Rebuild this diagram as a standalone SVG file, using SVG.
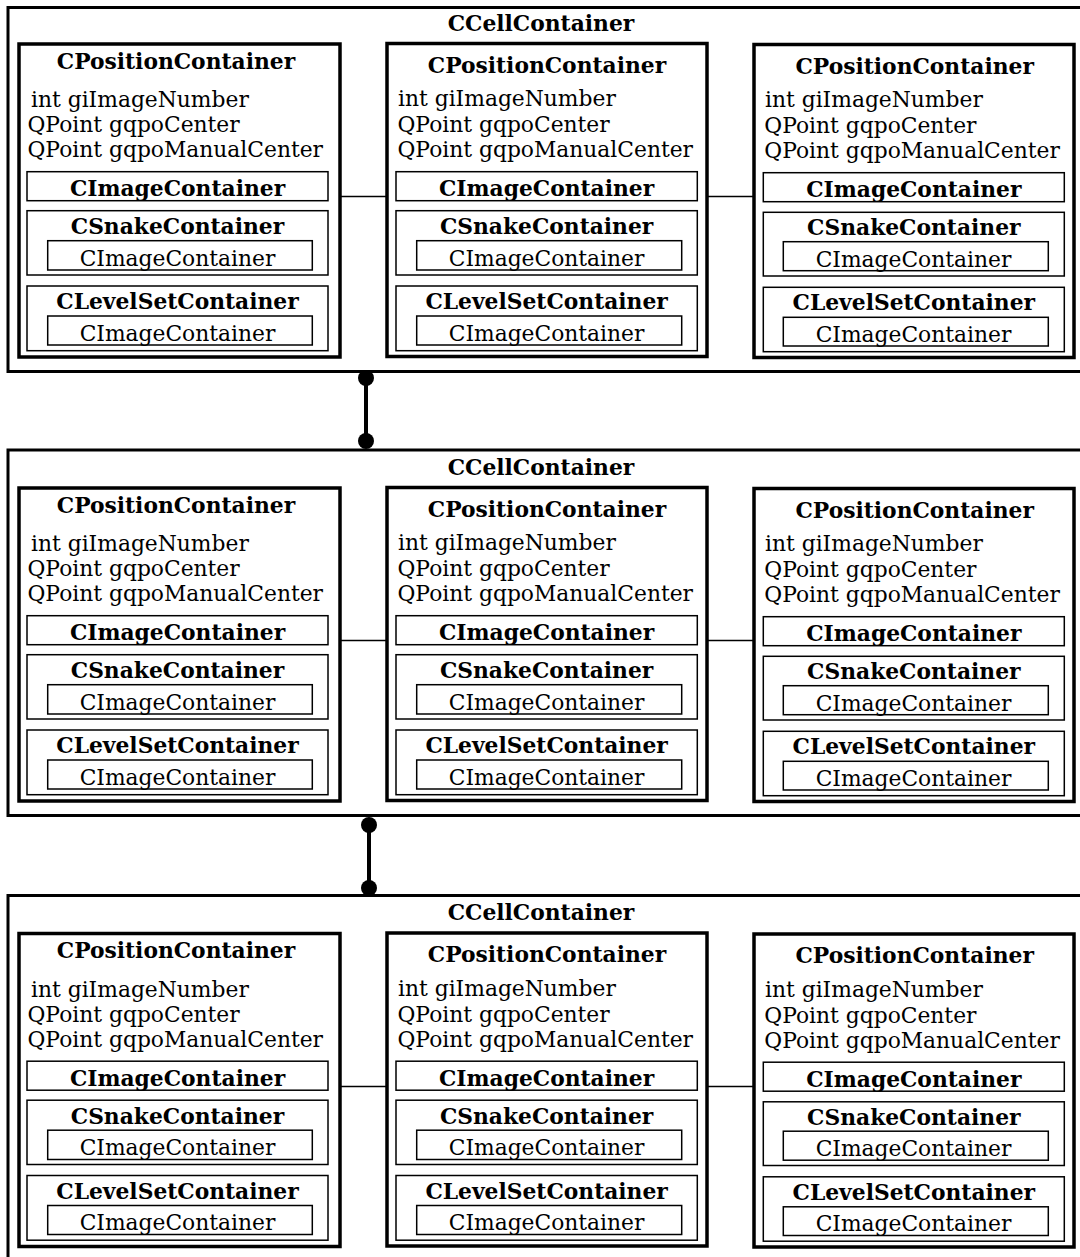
<svg xmlns="http://www.w3.org/2000/svg" width="1080" height="1257" viewBox="0 0 1080 1257">
  <style>
    text { font-family: "DejaVu Serif", "Liberation Serif", serif; fill: #000; }
    .b { font-weight: bold; font-size: 21.8px; text-anchor: middle; }
    .r { font-size: 21.8px; }
    .rc { font-size: 21.8px; text-anchor: middle; }
    .cell { fill: #fff; stroke: #000; stroke-width: 3; }
    .pos { fill: #fff; stroke: #000; stroke-width: 3.5; }
    .sub { fill: none; stroke: #000; stroke-width: 1.5; }
    .link { stroke: #000; stroke-width: 1.3; }
    .agg { stroke: #000; stroke-width: 4; }
  </style>
  <defs>
    <marker id="dot" viewBox="0 0 10 10" refX="5" refY="5" markerWidth="4" markerHeight="4" markerUnits="strokeWidth">
      <circle cx="5" cy="5" r="5" fill="#000"/>
    </marker>
  </defs>

  <!-- cell containers (outer frames) -->
  <g id="cell1">
    <rect class="cell" x="8" y="7.5" width="1090" height="364"/>
    <text class="b" x="541" y="31">CCellContainer</text>
  </g>
  <g id="cell2">
    <rect class="cell" x="8" y="450" width="1090" height="365.5"/>
    <text class="b" x="541" y="475">CCellContainer</text>
  </g>
  <g id="cell3">
    <rect class="cell" x="8" y="895.5" width="1090" height="370"/>
    <text class="b" x="541" y="920">CCellContainer</text>
  </g>

  <!-- connectors -->
  <g id="connectors">
    <line class="link" x1="341" y1="196.5" x2="387" y2="196.5"/>
    <line class="link" x1="707" y1="196.5" x2="754" y2="196.5"/>
    <line class="link" x1="341" y1="640.5" x2="387" y2="640.5"/>
    <line class="link" x1="707" y1="640.5" x2="754" y2="640.5"/>
    <line class="link" x1="341" y1="1086.5" x2="387" y2="1086.5"/>
    <line class="link" x1="707" y1="1086.5" x2="754" y2="1086.5"/>
    <line class="agg" x1="366" y1="378" x2="366" y2="441" marker-start="url(#dot)" marker-end="url(#dot)"/>
    <line class="agg" x1="369" y1="825" x2="369" y2="888" marker-start="url(#dot)" marker-end="url(#dot)"/>
  </g>

  <!-- row 1 -->
  <g id="pos1a">
    <rect class="pos" x="19" y="44" width="321" height="313"/>
    <text class="b" x="176" y="68.5">CPositionContainer</text>
    <text class="r" x="31" y="107">int giImageNumber</text>
    <text class="r" x="27.5" y="132">QPoint gqpoCenter</text>
    <text class="r" x="27.5" y="157">QPoint gqpoManualCenter</text>
    <rect class="sub" x="27" y="171.7" width="301" height="29"/>
    <text class="b" x="177.5" y="196">CImageContainer</text>
    <rect class="sub" x="27" y="210.7" width="301" height="64.3"/>
    <text class="b" x="177.5" y="234">CSnakeContainer</text>
    <rect class="sub" x="47.7" y="240.7" width="264.6" height="29.3"/>
    <text class="rc" x="177.5" y="265.5">CImageContainer</text>
    <rect class="sub" x="27" y="286" width="301" height="64.7"/>
    <text class="b" x="177.5" y="309">CLevelSetContainer</text>
    <rect class="sub" x="47.7" y="316" width="264.6" height="29"/>
    <text class="rc" x="177.5" y="340.5">CImageContainer</text>
  </g>
  <g id="pos1b">
    <rect class="pos" x="387" y="43.5" width="320" height="313"/>
    <text class="b" x="547" y="72.5">CPositionContainer</text>
    <text class="r" x="398" y="106">int giImageNumber</text>
    <text class="r" x="397.5" y="132">QPoint gqpoCenter</text>
    <text class="r" x="397.5" y="157">QPoint gqpoManualCenter</text>
    <rect class="sub" x="396" y="171.7" width="301.3" height="29"/>
    <text class="b" x="546.6" y="196">CImageContainer</text>
    <rect class="sub" x="396" y="210.7" width="301.3" height="64.3"/>
    <text class="b" x="546.6" y="234">CSnakeContainer</text>
    <rect class="sub" x="416.7" y="240.7" width="265" height="29.3"/>
    <text class="rc" x="546.6" y="265.5">CImageContainer</text>
    <rect class="sub" x="396" y="286" width="301.3" height="64.7"/>
    <text class="b" x="546.6" y="309">CLevelSetContainer</text>
    <rect class="sub" x="416.7" y="316" width="265" height="29"/>
    <text class="rc" x="546.6" y="340.5">CImageContainer</text>
  </g>
  <g id="pos1c">
    <rect class="pos" x="754" y="44.5" width="320" height="313"/>
    <text class="b" x="914.7" y="73.5">CPositionContainer</text>
    <text class="r" x="765" y="107">int giImageNumber</text>
    <text class="r" x="764.3" y="133">QPoint gqpoCenter</text>
    <text class="r" x="764.3" y="158">QPoint gqpoManualCenter</text>
    <rect class="sub" x="763.3" y="172.7" width="301" height="29"/>
    <text class="b" x="913.8" y="197">CImageContainer</text>
    <rect class="sub" x="763.3" y="212.3" width="301" height="63.7"/>
    <text class="b" x="913.8" y="235">CSnakeContainer</text>
    <rect class="sub" x="783.3" y="241.7" width="265" height="29"/>
    <text class="rc" x="913.5" y="266.5">CImageContainer</text>
    <rect class="sub" x="763.3" y="287.3" width="301" height="64.4"/>
    <text class="b" x="913.8" y="310">CLevelSetContainer</text>
    <rect class="sub" x="783.3" y="317.3" width="265" height="28.7"/>
    <text class="rc" x="913.5" y="341.5">CImageContainer</text>
  </g>

  <!-- row 2 -->
  <g id="pos2a" transform="translate(0,444)">
    <rect class="pos" x="19" y="44" width="321" height="313"/>
    <text class="b" x="176" y="68.5">CPositionContainer</text>
    <text class="r" x="31" y="107">int giImageNumber</text>
    <text class="r" x="27.5" y="132">QPoint gqpoCenter</text>
    <text class="r" x="27.5" y="157">QPoint gqpoManualCenter</text>
    <rect class="sub" x="27" y="171.7" width="301" height="29"/>
    <text class="b" x="177.5" y="196">CImageContainer</text>
    <rect class="sub" x="27" y="210.7" width="301" height="64.3"/>
    <text class="b" x="177.5" y="234">CSnakeContainer</text>
    <rect class="sub" x="47.7" y="240.7" width="264.6" height="29.3"/>
    <text class="rc" x="177.5" y="265.5">CImageContainer</text>
    <rect class="sub" x="27" y="286" width="301" height="64.7"/>
    <text class="b" x="177.5" y="309">CLevelSetContainer</text>
    <rect class="sub" x="47.7" y="316" width="264.6" height="29"/>
    <text class="rc" x="177.5" y="340.5">CImageContainer</text>
  </g>
  <g id="pos2b" transform="translate(0,444)">
    <rect class="pos" x="387" y="43.5" width="320" height="313"/>
    <text class="b" x="547" y="72.5">CPositionContainer</text>
    <text class="r" x="398" y="106">int giImageNumber</text>
    <text class="r" x="397.5" y="132">QPoint gqpoCenter</text>
    <text class="r" x="397.5" y="157">QPoint gqpoManualCenter</text>
    <rect class="sub" x="396" y="171.7" width="301.3" height="29"/>
    <text class="b" x="546.6" y="196">CImageContainer</text>
    <rect class="sub" x="396" y="210.7" width="301.3" height="64.3"/>
    <text class="b" x="546.6" y="234">CSnakeContainer</text>
    <rect class="sub" x="416.7" y="240.7" width="265" height="29.3"/>
    <text class="rc" x="546.6" y="265.5">CImageContainer</text>
    <rect class="sub" x="396" y="286" width="301.3" height="64.7"/>
    <text class="b" x="546.6" y="309">CLevelSetContainer</text>
    <rect class="sub" x="416.7" y="316" width="265" height="29"/>
    <text class="rc" x="546.6" y="340.5">CImageContainer</text>
  </g>
  <g id="pos2c" transform="translate(0,444)">
    <rect class="pos" x="754" y="44.5" width="320" height="313"/>
    <text class="b" x="914.7" y="73.5">CPositionContainer</text>
    <text class="r" x="765" y="107">int giImageNumber</text>
    <text class="r" x="764.3" y="133">QPoint gqpoCenter</text>
    <text class="r" x="764.3" y="158">QPoint gqpoManualCenter</text>
    <rect class="sub" x="763.3" y="172.7" width="301" height="29"/>
    <text class="b" x="913.8" y="197">CImageContainer</text>
    <rect class="sub" x="763.3" y="212.3" width="301" height="63.7"/>
    <text class="b" x="913.8" y="235">CSnakeContainer</text>
    <rect class="sub" x="783.3" y="241.7" width="265" height="29"/>
    <text class="rc" x="913.5" y="266.5">CImageContainer</text>
    <rect class="sub" x="763.3" y="287.3" width="301" height="64.4"/>
    <text class="b" x="913.8" y="310">CLevelSetContainer</text>
    <rect class="sub" x="783.3" y="317.3" width="265" height="28.7"/>
    <text class="rc" x="913.5" y="341.5">CImageContainer</text>
  </g>

  <!-- row 3 -->
  <g id="pos3a" transform="translate(0,889.5)">
    <rect class="pos" x="19" y="44" width="321" height="313"/>
    <text class="b" x="176" y="68.5">CPositionContainer</text>
    <text class="r" x="31" y="107">int giImageNumber</text>
    <text class="r" x="27.5" y="132">QPoint gqpoCenter</text>
    <text class="r" x="27.5" y="157">QPoint gqpoManualCenter</text>
    <rect class="sub" x="27" y="171.7" width="301" height="29"/>
    <text class="b" x="177.5" y="196">CImageContainer</text>
    <rect class="sub" x="27" y="210.7" width="301" height="64.3"/>
    <text class="b" x="177.5" y="234">CSnakeContainer</text>
    <rect class="sub" x="47.7" y="240.7" width="264.6" height="29.3"/>
    <text class="rc" x="177.5" y="265.5">CImageContainer</text>
    <rect class="sub" x="27" y="286" width="301" height="64.7"/>
    <text class="b" x="177.5" y="309">CLevelSetContainer</text>
    <rect class="sub" x="47.7" y="316" width="264.6" height="29"/>
    <text class="rc" x="177.5" y="340.5">CImageContainer</text>
  </g>
  <g id="pos3b" transform="translate(0,889.5)">
    <rect class="pos" x="387" y="43.5" width="320" height="313"/>
    <text class="b" x="547" y="72.5">CPositionContainer</text>
    <text class="r" x="398" y="106">int giImageNumber</text>
    <text class="r" x="397.5" y="132">QPoint gqpoCenter</text>
    <text class="r" x="397.5" y="157">QPoint gqpoManualCenter</text>
    <rect class="sub" x="396" y="171.7" width="301.3" height="29"/>
    <text class="b" x="546.6" y="196">CImageContainer</text>
    <rect class="sub" x="396" y="210.7" width="301.3" height="64.3"/>
    <text class="b" x="546.6" y="234">CSnakeContainer</text>
    <rect class="sub" x="416.7" y="240.7" width="265" height="29.3"/>
    <text class="rc" x="546.6" y="265.5">CImageContainer</text>
    <rect class="sub" x="396" y="286" width="301.3" height="64.7"/>
    <text class="b" x="546.6" y="309">CLevelSetContainer</text>
    <rect class="sub" x="416.7" y="316" width="265" height="29"/>
    <text class="rc" x="546.6" y="340.5">CImageContainer</text>
  </g>
  <g id="pos3c" transform="translate(0,889.5)">
    <rect class="pos" x="754" y="44.5" width="320" height="313"/>
    <text class="b" x="914.7" y="73.5">CPositionContainer</text>
    <text class="r" x="765" y="107">int giImageNumber</text>
    <text class="r" x="764.3" y="133">QPoint gqpoCenter</text>
    <text class="r" x="764.3" y="158">QPoint gqpoManualCenter</text>
    <rect class="sub" x="763.3" y="172.7" width="301" height="29"/>
    <text class="b" x="913.8" y="197">CImageContainer</text>
    <rect class="sub" x="763.3" y="212.3" width="301" height="63.7"/>
    <text class="b" x="913.8" y="235">CSnakeContainer</text>
    <rect class="sub" x="783.3" y="241.7" width="265" height="29"/>
    <text class="rc" x="913.5" y="266.5">CImageContainer</text>
    <rect class="sub" x="763.3" y="287.3" width="301" height="64.4"/>
    <text class="b" x="913.8" y="310">CLevelSetContainer</text>
    <rect class="sub" x="783.3" y="317.3" width="265" height="28.7"/>
    <text class="rc" x="913.5" y="341.5">CImageContainer</text>
  </g>
</svg>
